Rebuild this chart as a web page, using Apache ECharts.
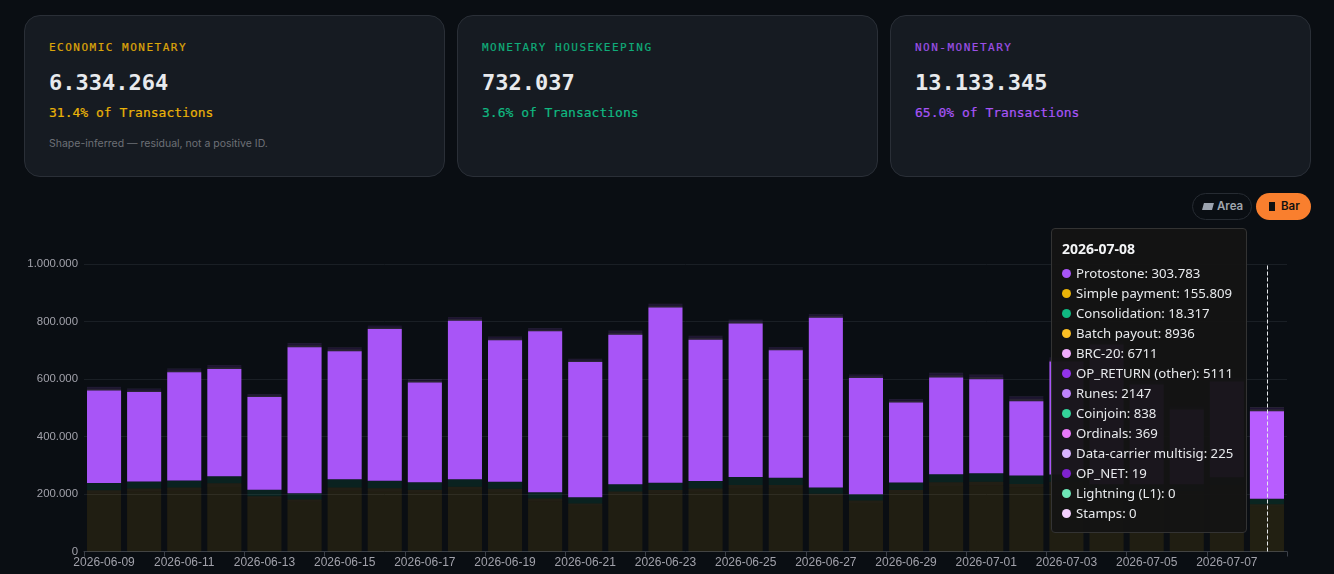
<!DOCTYPE html>
<html><head><meta charset="utf-8">
<script src="https://cdn.jsdelivr.net/npm/echarts@6/dist/echarts.min.js"></script>
<style>
html,body{margin:0;padding:0;background:#0a0e13;width:1334px;height:574px;overflow:hidden}
.card{position:absolute;top:15px;width:419px;height:160px;background:#161b22;border:1px solid #2a2f37;border-radius:16px}
.card div{position:absolute;left:24px;white-space:nowrap}
.lab{top:25px;font:400 11px/14px "DejaVu Sans Mono",monospace;letter-spacing:1.5px;opacity:.92;-webkit-text-stroke:.2px currentColor}
.val{top:52px;font:700 22px/30px "DejaVu Sans Mono",monospace;color:#e8eaed}
.sub{top:89px;font:400 13px/16px "DejaVu Sans Mono",monospace;-webkit-text-stroke:.2px currentColor}
.note{top:121px;font:400 10.5px/14px Inter,sans-serif;color:#6d7076}
.pill{position:absolute;top:193px;height:27px;border-radius:14px;box-sizing:border-box;font:600 11.5px/25px Inter,sans-serif;text-align:left}
.pill i{position:absolute;top:9px;display:block}
#chart{position:absolute;left:0;top:225px;width:1334px;height:349px}
</style></head><body>
<div id="chart"></div>
<div class="card" style="left:24px"><div class="lab" style="color:#eab308">ECONOMIC MONETARY</div><div class="val">6.334.264</div><div class="sub" style="color:#eab308">31.4% of Transactions</div><div class="note">Shape-inferred — residual, not a positive ID.</div></div>
<div class="card" style="left:457px"><div class="lab" style="color:#10b981">MONETARY HOUSEKEEPING</div><div class="val">732.037</div><div class="sub" style="color:#10b981">3.6% of Transactions</div></div>
<div class="card" style="left:890px"><div class="lab" style="color:#a855f7">NON-MONETARY</div><div class="val">13.133.345</div><div class="sub" style="color:#a855f7">65.0% of Transactions</div></div>
<div class="pill" style="left:1192px;width:60px;border:1px solid #262b32;color:#a0a6ae;padding-left:24px"><i style="left:10px;width:10px;height:7px;background:#9ca3af;transform:skewX(-15deg)"></i>Area</div>
<div class="pill" style="left:1256px;width:55px;background:#f97f2e;color:#111;padding:1px 0 0 25px"><i style="left:13px;width:6px;height:9px;background:#111"></i>Bar</div>
<script>
var dates=["2026-06-09","2026-06-10","2026-06-11","2026-06-12","2026-06-13","2026-06-14","2026-06-15","2026-06-16","2026-06-17","2026-06-18","2026-06-19","2026-06-20","2026-06-21","2026-06-22","2026-06-23","2026-06-24","2026-06-25","2026-06-26","2026-06-27","2026-06-28","2026-06-29","2026-06-30","2026-07-01","2026-07-02","2026-07-03","2026-07-04","2026-07-05","2026-07-06","2026-07-07","2026-07-08"];
var simplePayment=[202800,209200,211900,224600,183300,172900,212100,208700,205400,214600,207200,175100,159100,199100,202800,208400,218900,219500,191700,168400,203900,228200,230700,223300,231100,198500,199700,200300,221600,155809];
var batchPayout=[10200,9800,11100,12400,8700,8100,10900,11300,9600,10400,10800,8900,7900,9900,11200,10600,12100,11500,9300,8600,10100,12800,12300,11700,11900,9500,10300,9700,11400,8936];
var consolidation=[24000,24000,23000,24000,22000,21000,27000,25000,25000,25000,24000,21000,21000,24000,24000,25000,27000,25000,21000,21000,25000,27000,28000,28000,24000,25000,23000,23000,24000,18317];
var coinjoin=[900,850,910,870,780,820,940,890,860,920,880,790,760,900,930,870,950,910,830,770,880,960,940,920,890,850,860,800,880,838];
var lightning=[0,0,0,1,0,0,0,0,0,1,0,0,0,0,0,0,1,0,0,0,0,0,0,0,0,0,0,0,0,0];
var protostone=[322000,311000,377000,373000,323000,508000,446000,528000,347000,552000,492000,560000,470000,520000,610000,492000,534000,443000,590000,405000,278000,336000,327000,259000,393000,486000,347000,260000,333000,303783];
var brc20=[5800,5400,5900,6300,4500,6800,6300,5400,5400,5900,5900,5400,5400,6800,5900,6300,5900,5400,5900,5400,5900,7700,7700,8100,6300,5900,5400,4500,6300,6711];
var opReturn=[4300,4000,4300,4600,3300,4900,4600,4000,4000,4300,4300,4000,4000,4900,4300,4600,4300,4000,4300,4000,4300,5600,5600,5900,4600,4300,4000,3300,4600,5111];
var runes=[2000,1800,2000,2100,1500,2300,2100,1800,1800,2000,2000,1800,1800,2300,2000,2100,2000,1800,2000,1800,2000,2600,2600,2700,2100,2000,1800,1500,2100,2147];
var ordinals=[380,340,360,390,300,410,370,350,330,360,390,340,320,400,370,380,360,340,350,330,370,420,410,430,380,360,340,310,370,369];
var dataCarrier=[210,190,220,230,170,240,220,200,190,210,220,200,180,240,210,230,220,190,210,190,210,260,250,260,220,210,200,170,220,225];
var opNet=[20,18,22,24,15,26,21,19,17,20,23,18,16,25,20,22,21,19,20,18,21,27,26,28,22,20,18,15,21,19];
var stamps=[0,0,1,0,0,0,0,0,0,0,0,1,0,0,0,0,0,0,0,0,0,0,1,0,0,0,0,0,0,0];
var axisTicks=[0,200000,400000,600000,800000,1000000];

var defs=[["Simple payment",simplePayment,"#eab308",.1],["Batch payout",batchPayout,"#fbbf24",.1],["Consolidation",consolidation,"#10b981",.12],["Coinjoin",coinjoin,"#34d399",.12],["Lightning (L1)",lightning,"#6ee7b7",.12],["Protostone",protostone,"#a855f7",1],["BRC-20",brc20,"#f0abfc",.14],["OP_RETURN (other)",opReturn,"#9333ea",.14],["Runes",runes,"#c084fc",.14],["Ordinals",ordinals,"#e879f9",.14],["Data-carrier multisig",dataCarrier,"#d8b4fe",.14],["OP_NET",opNet,"#7e22ce",.14],["Stamps",stamps,"#f5d0fe",.14]];
function fmt(v){return v>=10000?String(v).replace(/\B(?=(\d{3})+$)/g,"."):String(v);}
var chart=echarts.init(document.getElementById("chart"),null,{renderer:"canvas"});
chart.setOption({
 animation:false,backgroundColor:"transparent",
 grid:{left:84,right:47,top:39,bottom:22.5},
 tooltip:{trigger:"axis",alwaysShowContent:true,transitionDuration:0,position:[1051,3],padding:0,
  backgroundColor:"rgba(20,20,20,0.96)",borderColor:"#333",borderWidth:1,
  extraCssText:"width:194px;height:303px;border-radius:4px;box-shadow:none;",
  axisPointer:{type:"line",z:20,lineStyle:{color:"#e5e7eb",type:"dashed",width:1}},
  formatter:function(ps){
   var rows=ps.slice().sort(function(a,b){return b.value-a.value;}).map(function(p){
    return '<div style="height:20px;line-height:20px;position:relative;padding-left:24px;white-space:nowrap"><span style="position:absolute;left:10px;top:5.5px;width:9px;height:9px;border-radius:50%;background:'+p.color+'"></span>'+p.seriesName+': '+fmt(p.value)+'</div>';
   }).join("");
   return '<div style="font:400 13.2px \'Noto Sans\',sans-serif;color:#e8eaed;padding-top:10px"><div style="font-weight:700;font-size:14px;line-height:20px;padding:0 0 4px 10px;color:#f3f4f6">'+ps[0].axisValue+'</div>'+rows+'</div>';
  }},
 xAxis:{type:"category",data:dates,
  axisLine:{lineStyle:{color:"#3a3f47"}},axisTick:{show:true,interval:1,alignWithLabel:false,lineStyle:{color:"#3a3f47"}},
  axisLabel:{interval:1,color:"#a1a1aa",fontSize:12,fontFamily:"Liberation Sans, sans-serif",margin:5},splitLine:{show:false}},
 yAxis:{type:"value",min:axisTicks[0],max:axisTicks[5],interval:axisTicks[1],
  axisLine:{show:false},axisTick:{show:false},
  axisLabel:{color:"#a1a1aa",fontSize:11.4,fontFamily:"Liberation Sans, sans-serif",margin:6,formatter:function(v){return v===0?"0":String(v).replace(/\B(?=(\d{3})+$)/g,".");}},
  splitLine:{lineStyle:{color:"#1a1f25"}}},
 series:defs.map(function(d){return {name:d[0],type:"bar",stack:"t",data:d[1],barCategoryGap:"15%",
  itemStyle:{color:d[2],opacity:d[3]}};})
});
chart.dispatchAction({type:"showTip",seriesIndex:5,dataIndex:29});
</script>
</body></html>
